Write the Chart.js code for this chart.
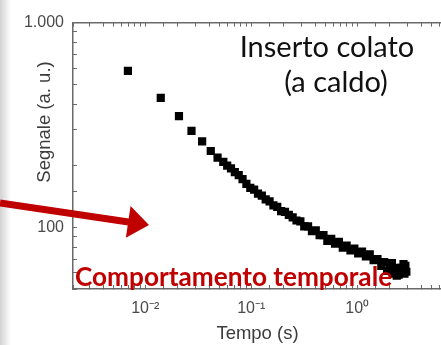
<!DOCTYPE html>
<html>
<head>
<meta charset="utf-8">
<script src="https://cdn.jsdelivr.net/npm/chart.js@4.4.1/dist/chart.umd.min.js"></script>
<style>
  html, body { margin: 0; padding: 0; overflow: hidden; width: 441px; height: 345px;
    background: linear-gradient(to right, #d2d2d2 0px, #ebebeb 6px, #ffffff 11px); }
  canvas { display: block; }
</style>
</head>
<body>
<canvas id="chart" width="456" height="345"></canvas>
<script>
// Tempo (s) e segnale (a. u.)
const tempo = [0.00686, 0.0140, 0.0208, 0.0273, 0.0344, 0.0415, 0.0481, 0.0545, 0.0593, 0.0644,
    0.0700, 0.0762, 0.0828, 0.0900, 0.0980, 0.1065, 0.1158, 0.1259, 0.1369, 0.1489,
    0.1619, 0.1760, 0.1914, 0.2081, 0.2263, 0.2460, 0.2675, 0.2909, 0.3163, 0.3437,
    0.3739, 0.4064, 0.4419, 0.4806, 0.5225, 0.5683, 0.6178, 0.6718, 0.7305, 0.7943,
    0.8636, 0.9391, 1.021, 1.110, 1.207, 1.313, 1.427, 1.552, 1.688, 1.797,
    1.913, 2.038, 2.125, 2.170, 2.310, 2.359, 2.460, 2.619, 2.733, 2.790,
    2.848, 2.908];
const segnale = [581, 429, 349, 296, 263, 236, 219, 209, 200, 194,
    186, 180, 172, 163, 156, 153, 146, 143, 137, 134,
    128, 126, 120, 119, 115, 112, 108, 107, 101, 101,
    95.7, 96.8, 91.7, 91.7, 85.9, 87.8, 83.2, 85.0, 79.6, 81.4,
    77.1, 78.7, 74.6, 76.2, 72.2, 73.8, 69.1, 69.9, 64.8, 67.6,
    61.3, 64.8, 66.9, 59.4, 63.4, 58.1, 58.7, 63.4, 66.2, 59.4,
    64.8, 60.7];

const xTickValues = [0.01, 0.1, 1];
const xTickLabels = ['10⁻²', '10⁻¹', '10⁰'];
const yTickValues = [100, 1000];
const yTickLabels = ['100', '1.000'];

const xMin = 0.00208, xMax = 6.31;
const yMin = 50, yMax = 1000;

const axisFont = '"Liberation Sans", Arial, sans-serif';
const axisGrey = '#6a6a6a';

function labelFor(values, labels) {
    return function (value) {
        const i = values.findIndex(v => Math.abs(v - value) / v < 1e-6);
        return i >= 0 ? labels[i] : '';
    };
}

// Testi e freccia sovrapposti al grafico
const annotazioni = {
    id: 'annotazioni',
    afterDraw(chart) {
        const ctx = chart.ctx;

        // titolo asse y
        ctx.save();
        ctx.translate(50, 122);
        ctx.rotate(-Math.PI / 2);
        ctx.font = '18.5px ' + axisFont;
        ctx.fillStyle = '#3c3c3c';
        ctx.textAlign = 'center';
        ctx.textBaseline = 'alphabetic';
        ctx.fillText('Segnale (a. u.)', 0, 0);
        ctx.restore();

        // Inserto colato (a caldo)
        ctx.save();
        ctx.font = '29px Lato, sans-serif';
        ctx.fillStyle = '#111';
        ctx.textAlign = 'center';
        ctx.textBaseline = 'alphabetic';
        ctx.fillText('Inserto colato', 327, 57);
        ctx.fillText('(a caldo)', 336, 92);
        ctx.restore();

        // freccia rossa
        ctx.save();
        const tip = { x: 149, y: 225 };
        const start = { x: 0, y: 203 };
        const len = Math.hypot(tip.x - start.x, tip.y - start.y);
        const dx = (tip.x - start.x) / len, dy = (tip.y - start.y) / len;
        const headL = 21, headW = 16;
        const bx = tip.x - dx * headL, by = tip.y - dy * headL;
        ctx.strokeStyle = '#c00000';
        ctx.fillStyle = '#c00000';
        ctx.lineWidth = 7;
        ctx.beginPath();
        ctx.moveTo(start.x, start.y);
        ctx.lineTo(bx + dx * 2, by + dy * 2);
        ctx.stroke();
        ctx.beginPath();
        ctx.moveTo(tip.x, tip.y);
        ctx.lineTo(bx - dy * headW, by + dx * headW);
        ctx.lineTo(bx + dy * headW, by - dx * headW);
        ctx.closePath();
        ctx.fill();
        ctx.restore();

        // Comportamento temporale
        ctx.save();
        const testo = 'Comportamento temporale';
        ctx.font = 'bold 28px Lato, sans-serif';
        const size = 28 * 317 / ctx.measureText(testo).width;
        ctx.font = 'bold ' + size.toFixed(1) + 'px Lato, sans-serif';
        ctx.fillStyle = '#c00000';
        ctx.textAlign = 'left';
        ctx.textBaseline = 'alphabetic';
        ctx.fillText(testo, 75, 286);
        ctx.restore();
    }
};

new Chart(document.getElementById('chart'), {
    type: 'scatter',
    data: {
        datasets: [{
            label: 'Segnale',
            data: tempo.map((t, i) => ({ x: t, y: segnale[i] })),
            pointStyle: 'rect',
            pointRadius: 5.8,
            pointBorderWidth: 0,
            pointBackgroundColor: '#000',
            showLine: false
        }]
    },
    options: {
        responsive: false,
        animation: false,
        layout: { padding: 0 },
        plugins: {
            legend: { display: false },
            tooltip: { enabled: false }
        },
        scales: {
            x: {
                type: 'logarithmic',
                position: 'bottom',
                min: xMin,
                max: xMax,
                border: { color: axisGrey, width: 1.5 },
                grid: { drawOnChartArea: false, tickLength: -4, tickColor: axisGrey, tickWidth: 1 },
                ticks: {
                    autoSkip: false,
                    maxRotation: 0,
                    padding: 14,
                    color: '#4a4a4a',
                    font: { family: axisFont, size: 16 },
                    callback: labelFor(xTickValues, xTickLabels)
                },
                title: {
                    display: true,
                    text: 'Tempo (s)',
                    color: '#3c3c3c',
                    font: { family: axisFont, size: 18.5 },
                    padding: { top: 0, bottom: 0 }
                },
                afterFit: s => { s.height = 56; }
            },
            x2: {
                type: 'logarithmic',
                position: 'top',
                min: xMin,
                max: xMax,
                border: { color: axisGrey, width: 1.5 },
                grid: { drawOnChartArea: false, tickLength: -4, tickColor: axisGrey, tickWidth: 1 },
                ticks: { display: false, autoSkip: false },
                afterFit: s => { s.height = 13; }
            },
            y: {
                type: 'logarithmic',
                min: yMin,
                max: yMax,
                border: { color: axisGrey, width: 1.5 },
                grid: { drawOnChartArea: false, tickLength: -4, tickColor: axisGrey, tickWidth: 1 },
                ticks: {
                    autoSkip: false,
                    padding: 13,
                    color: '#4a4a4a',
                    font: { family: axisFont, size: 16 },
                    callback: labelFor(yTickValues, yTickLabels)
                },
                afterFit: s => { s.width = 73; }
            }
        }
    },
    plugins: [annotazioni]
});
</script>
</body>
</html>
